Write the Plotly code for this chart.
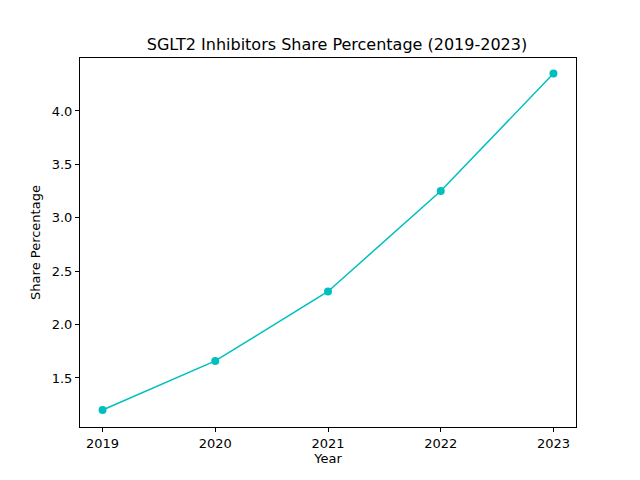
import plotly.graph_objects as go

years = [2019, 2020, 2021, 2022, 2023]
share = [1.20, 1.66, 2.31, 3.25, 4.35]

fig = go.Figure(go.Scatter(x=years, y=share, mode="lines+markers",
                           line=dict(color="#00bfbf", width=1.5),
                           marker=dict(color="#00bfbf", size=8)))
ax = dict(showline=True, linecolor="black", linewidth=1, mirror=True, ticks="outside",
          ticklen=4, tickcolor="black", showgrid=False, zeroline=False,
          tickfont=dict(size=13, color="black"))
fig.update_layout(
    width=640, height=480, plot_bgcolor="white", paper_bgcolor="white",
    font=dict(family="DejaVu Sans", color="black"),
    margin=dict(l=72, r=72, t=50, b=61),
    title=dict(text="SGLT2 Inhibitors Share Percentage (2019-2023)", x=0.514, xanchor="center",
               y=0.925, yanchor="middle", font=dict(size=16)),
    xaxis=dict(ax, range=[2018.8, 2023.2], tickvals=years,
               title=dict(text="Year", font=dict(size=13), standoff=4)),
    yaxis=dict(ax, range=[1.041, 4.496], tickvals=[1.5, 2.0, 2.5, 3.0, 3.5, 4.0],
               tickformat=".1f", title=dict(text="Share Percentage", font=dict(size=13), standoff=8)),
    showlegend=False,
)
fig.write_html("out.html")
